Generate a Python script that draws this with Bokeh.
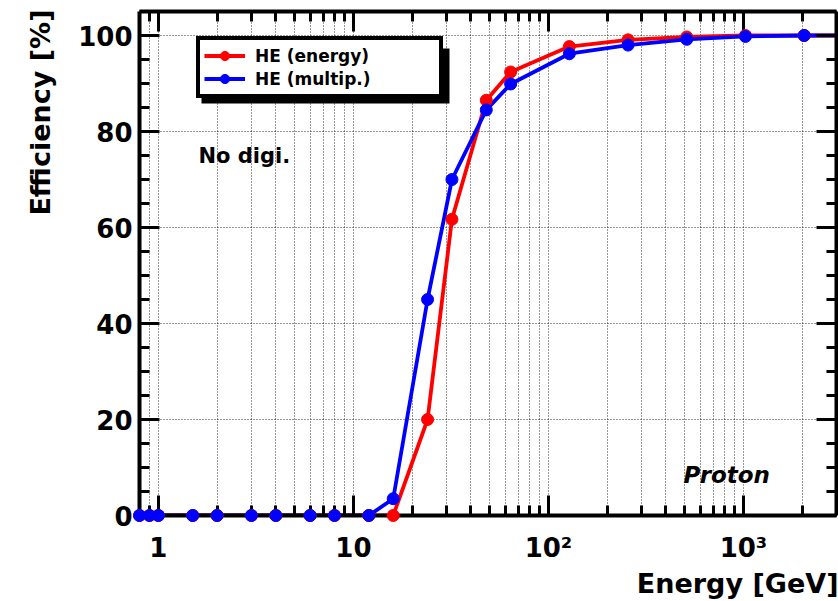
import math
from bokeh.plotting import figure
from bokeh.models import (LogAxis, LinearAxis, FixedTicker, SingleIntervalTicker,
                          Range1d, Label, Legend, LegendItem, BoxAnnotation, Title)
from bokeh.embed import file_html
from bokeh.resources import INLINE

# ---------------- data ----------------
energy = [0.8, 0.9, 1.0, 1.5, 2, 3, 4, 6, 8, 12, 16, 24, 32, 48, 64, 128, 256, 512, 1024, 2048, 4096]
eff_energy = [0, 0, 0, 0, 0, 0, 0, 0, 0, 0, 0, 20.0, 61.7, 86.5, 92.4, 97.7, 99.1, 99.7, 100, 100, 100]
eff_multip = [0, 0, 0, 0, 0, 0, 0, 0, 0, 0, 3.5, 45.0, 70.0, 84.5, 89.9, 96.2, 98.0, 99.2, 99.8, 100, 100]

series_names = ["HE (energy)", "HE (multip.)"]
series_colors = ["#ff0000", "#0000ff"]

x_major = [1, 10, 100, 1000]
x_minor = [0.9, 2, 3, 4, 5, 6, 7, 8, 9, 20, 30, 40, 50, 60, 70, 80, 90,
           200, 300, 400, 500, 600, 700, 800, 900, 2000]
x_labels = {1: "1", 10: "10", 100: "10\u00b2", 1000: "10\u00b3"}

X_START, X_END = 0.8, 3000
Y_START, Y_END = 0, 105

FONT = "DejaVu Sans"

p = figure(width=838, height=601, x_axis_type="log",
           x_range=Range1d(X_START, X_END), y_range=Range1d(Y_START, Y_END),
           output_backend="svg", toolbar_location=None,
           min_border_left=139, min_border_right=2, min_border_top=11, min_border_bottom=86)
p.outline_line_color = None
p.background_fill_color = "white"
p.border_fill_color = "white"

xticker = FixedTicker(ticks=x_major, minor_ticks=x_minor)
yticker = SingleIntervalTicker(interval=20, num_minor_ticks=4)

def style_axis(ax, major_len, minor_len):
    ax.axis_line_width = 4
    ax.axis_line_color = "black"
    ax.major_tick_in = major_len
    ax.major_tick_out = 0
    ax.minor_tick_in = minor_len
    ax.minor_tick_out = 0
    ax.major_tick_line_width = 3
    ax.minor_tick_line_width = 3
    ax.major_tick_line_color = "black"
    ax.minor_tick_line_color = "black"
    ax.major_label_text_font = FONT
    ax.major_label_text_font_style = "bold"
    ax.major_label_text_color = "black"
    ax.major_label_text_font_size = "26px"

xaxis = p.xaxis[0]
xaxis.ticker = xticker
xaxis.major_label_overrides = x_labels
style_axis(xaxis, 20, 10)
xaxis.major_label_standoff = 17

yaxis = p.yaxis[0]
yaxis.ticker = yticker
style_axis(yaxis, 20, 10)
yaxis.major_label_standoff = 7

top_axis = LogAxis(ticker=xticker)
style_axis(top_axis, 20, 10)
top_axis.major_label_text_font_size = "1px"
top_axis.major_label_text_alpha = 0
top_axis.major_label_standoff = 0
p.add_layout(top_axis, "above")

right_axis = LinearAxis(ticker=yticker)
style_axis(right_axis, 20, 10)
right_axis.major_label_text_font_size = "1px"
right_axis.major_label_text_alpha = 0
right_axis.major_label_standoff = 0
p.add_layout(right_axis, "right")

# axis titles (right / top aligned as in the reference)
p.add_layout(Title(text="Energy [GeV]", align="right", text_font=FONT, text_font_style="bold",
                   text_font_size="27px", text_color="black", standoff=0, offset=-2), "below")
p.add_layout(Title(text="Efficiency [%]", align="right", text_font=FONT, text_font_style="bold",
                   text_font_size="27px", text_color="black", standoff=40, offset=-2), "left")

# grids
for g, tk in ((p.xgrid, xticker), (p.ygrid, yticker)):
    g.ticker = tk
    g.grid_line_color = "black"
    g.grid_line_alpha = 0.8
    g.grid_line_dash = "1 2"
    g.grid_line_width = 1
p.xgrid.minor_grid_line_color = "black"
p.xgrid.minor_grid_line_alpha = 0.8
p.xgrid.minor_grid_line_dash = "1 2"
p.xgrid.minor_grid_line_width = 1

# pixel -> data helpers for decorations (frame: x 139..836, y 11..515 px)
def px_to_x(px):
    return 10 ** (math.log10(X_START) + (px - 139) / (836 - 139) * (math.log10(X_END) - math.log10(X_START)))

def px_to_y(py):
    return Y_START + (515 - py) / (515 - 11) * (Y_END - Y_START)

# legend shadow
shadow = BoxAnnotation(left=px_to_x(201), right=px_to_x(449), top=px_to_y(48), bottom=px_to_y(103),
                       fill_color="black", fill_alpha=1.0, line_color=None)
p.add_layout(shadow)

items = []
for ys, name, col in zip([eff_energy, eff_multip], series_names, series_colors):
    ln = p.line(energy, ys, line_color=col, line_width=3.8)
    sc = p.scatter(energy, ys, marker="circle", size=12, fill_color=col, line_color=col, level="overlay")
    items.append(LegendItem(label=name, renderers=[ln, sc]))

legend = Legend(items=items, location=(57, 417), margin=0, padding=4, spacing=0,
                label_standoff=10, glyph_width=41, glyph_height=23, label_height=23,
                label_width=180, border_line_color="black", border_line_width=4, border_line_alpha=1.0,
                background_fill_color="white", background_fill_alpha=1.0,
                label_text_font=FONT, label_text_font_style="bold", label_text_font_size="17px",
                label_text_color="black")
p.add_layout(legend)

p.add_layout(Label(x=px_to_x(198), y=px_to_y(155), text="No digi.", text_font=FONT,
                   text_font_style="bold", text_font_size="21px", text_baseline="alphabetic",
                   text_align="left", text_color="black"))
p.add_layout(Label(x=px_to_x(683), y=px_to_y(474), text="Proton", text_font=FONT,
                   text_font_style="bold italic", text_font_size="23px", text_baseline="alphabetic",
                   text_align="left", text_color="black"))

open("out.html", "w").write(file_html(p, INLINE))
